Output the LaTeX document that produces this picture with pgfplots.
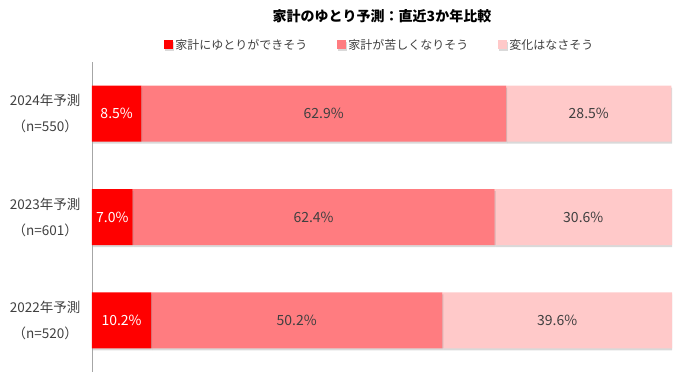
\documentclass[border=0pt]{standalone}
\usepackage{pgfplots}
\pgfplotsset{compat=1.18}
\usepackage{fontspec}
\setmainfont{Noto Sans CJK JP}
\usetikzlibrary{shadows}
\definecolor{cRed}{HTML}{FF0000}
\definecolor{cPink}{HTML}{FF7C80}
\definecolor{cLight}{HTML}{FFC9C9}
\definecolor{cText}{HTML}{404040}
\definecolor{cAxis}{HTML}{A6A6A6}
\begin{document}
\begin{tikzpicture}
\useasboundingbox (0,0) rectangle (680pt,378pt);
\pgfplotsset{
  common/.style={
    at={(92pt,6pt)}, anchor=south west,
    scale only axis, width=580pt, height=310pt,
    xmin=0, xmax=100, ymin=-0.5, ymax=2.5, y dir=reverse,
  }
}
\begin{axis}[common,
  xbar stacked, bar width=56pt,
  axis x line=none, axis y line*=left,
  y axis line style={-, draw=cAxis, line width=0.8pt},
  ytick={0,1,2}, ytick style={draw=none},
  yticklabels={{2024年予測\\[11pt]（n=550）},{2023年予測\\[11pt]（n=601）},{2022年予測\\[11pt]（n=520）}},
  yticklabel style={align=center, font=\fontsize{13.5}{15}\selectfont, text=cText, xshift=-8pt},
  title={\bfseries 家計のゆとり予測：直近3か年比較},
  title style={font=\fontsize{14}{16}\selectfont, text=black, yshift=30pt},
  legend columns=3,
  legend style={at={(0.5,1)}, anchor=south, yshift=7pt, xshift=-2pt, draw=none, fill=none,
    font=\fontsize{12}{14}\selectfont, text=cText,
    /tikz/every even column/.append style={column sep=28pt},
    nodes={inner sep=2pt}},
  legend image code/.code={\fill[#1] (0pt,-4.5pt) rectangle (9pt,4.5pt);},
  every axis plot/.append style={draw=none, drop shadow={shadow xshift=1pt, shadow yshift=-2pt, opacity=0.3}},
]
\addplot[fill=cRed] coordinates {(8.5,0) (7.0,1) (10.2,2)};
\addplot[fill=cPink] coordinates {(62.9,0) (62.4,1) (50.2,2)};
\addplot[fill=cLight] coordinates {(28.5,0) (30.6,1) (39.6,2)};
\legend{家計にゆとりができそう,家計が苦しくなりそう,変化はなさそう}
\end{axis}
\begin{axis}[common, hide axis,
  nodes near coords, point meta=explicit symbolic,
  every node near coord/.append style={anchor=center, font=\fontsize{14}{16}\selectfont},
]
\addplot[only marks, mark=none, every node near coord/.append style={text=white}]
  coordinates {(4.25,0)[8.5\%] (3.5,1)[7.0\%] (5.1,2)[10.2\%]};
\addplot[only marks, mark=none, every node near coord/.append style={text=cText}]
  coordinates {(39.95,0)[62.9\%] (38.2,1)[62.4\%] (35.3,2)[50.2\%]};
\addplot[only marks, mark=none, every node near coord/.append style={text=cText}]
  coordinates {(85.65,0)[28.5\%] (84.7,1)[30.6\%] (80.2,2)[39.6\%]};
\end{axis}
\end{tikzpicture}
\end{document}
